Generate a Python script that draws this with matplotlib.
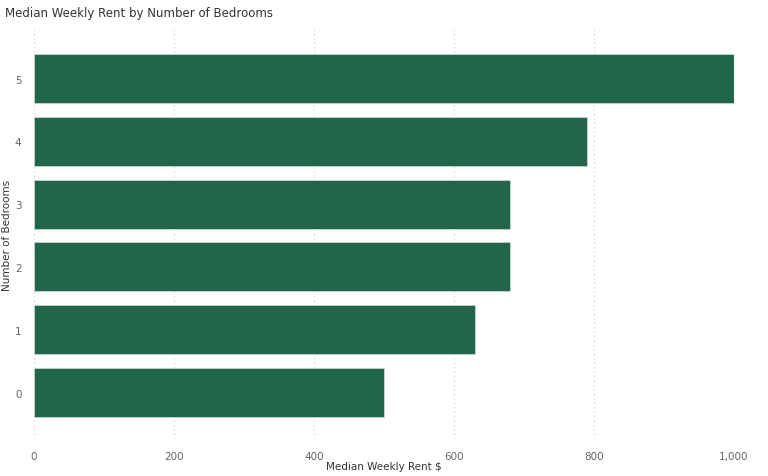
import matplotlib
matplotlib.use('Agg')
import matplotlib.pyplot as plt
from matplotlib.ticker import FuncFormatter

######################################################################

bedrooms = ['0', '1', '2', '3', '4', '5']
median_rent = [500, 630, 680, 680, 790, 1000]
x_ticks = [0, 200, 400, 600, 800, 1000]

######################################################################

plt.rcParams['font.family'] = ['Liberation Sans Narrow', 'DejaVu Sans']

fig = plt.figure(figsize = (7.68, 4.77), dpi = 100)
ax = fig.add_axes([0.0443, 0.0776, 0.9114, 0.8594])

pos = range(len(bedrooms))
ax.barh(pos, median_rent, height = 0.78, color = '#21654a',
        edgecolor = '#c8d8d0', linewidth = 0.6, zorder = 3)

ax.set_xlim(0, 1000)
ax.set_ylim(-0.74, 5.79)
ax.set_yticks(list(pos))
ax.set_yticklabels(bedrooms)
ax.set_xticks(x_ticks)
ax.xaxis.set_major_formatter(FuncFormatter(lambda v, p: f'{int(v):,}'))

ax.grid(axis = 'x', linestyle = (0, (1, 3)), color = '#c8c8c8', linewidth = 0.8, zorder = 0)
for s in ax.spines.values():
    s.set_visible(False)
ax.tick_params(length = 0, labelsize = 7.5, colors = '#666666')
ax.tick_params(axis = 'x', pad = 9)
ax.tick_params(axis = 'y', pad = 9)

ax.set_xlabel('Median Weekly Rent $', fontsize = 7.5, color = '#333333', labelpad = 0)
ax.set_ylabel('Number of Bedrooms', fontsize = 7.5, color = '#333333', labelpad = 2)

fig.text(0.006, 0.985, 'Median Weekly Rent by Number of Bedrooms',
         fontsize = 8.5, color = '#333333', ha = 'left', va = 'top')

fig.savefig('out.png', dpi = 100)
